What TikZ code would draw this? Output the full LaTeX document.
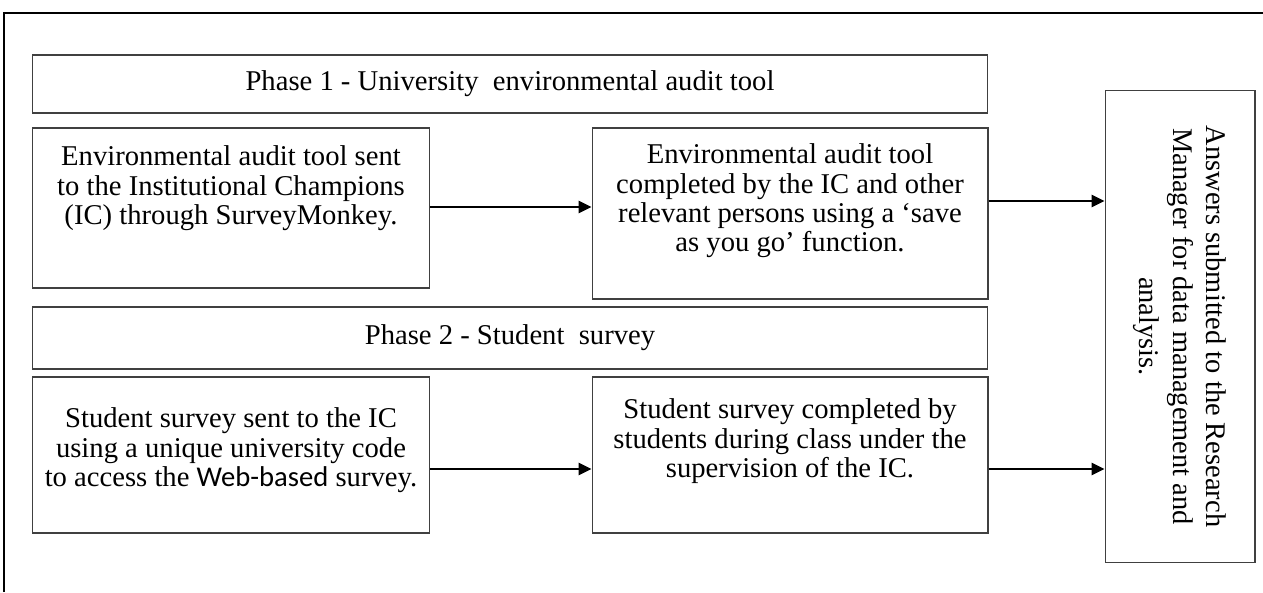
\documentclass[tikz,border=0pt]{standalone}
\usepackage{fontspec}
\setmainfont{Liberation Serif}
\newfontfamily\webfont{Carlito}
\usetikzlibrary{arrows.meta,calc}
\tikzset{
	phasebox/.style={draw=black!75, line width=0.6pt, inner sep=0pt, minimum height=#1, minimum width=19.12cm},
	stepbox/.style={draw=black!75, line width=0.6pt, inner sep=0pt},
	flow/.style={line width=1.6pt, -{Triangle[length=0.26cm,width=0.24cm]}},
}
% box text: width, height, top gap, text
\newcommand{\boxtext}[4]{\parbox[c][#2][t]{#1}{\centering\vspace*{#3}#4}}

\begin{document}
\begin{tikzpicture}[x=0.02cm, y=-0.02cm]
		%%%%% START %%%%%
		\fontsize{16.3}{16.6}\selectfont
		\useasboundingbox (0, 0) rectangle (1263, 592);
		
		% frame
		\draw[line width=1.4pt] (4, 592) -- (4, 13) -- (1263, 13);
		
		% phase 1
		\node[phasebox=1.16cm] (phaseone) at (510, 84) {Phase 1 - University~ environmental audit tool};
		\node[stepbox] (sendone) at (231, 208) {\boxtext{7.96cm}{3.2cm}{0.36cm}{Environmental audit tool sent\\ to the Institutional Champions\\ (IC) through SurveyMonkey.}};
		\node[stepbox] (doneone) at (790, 213.5) {\boxtext{7.92cm}{3.42cm}{0.32cm}{Environmental audit tool\\ completed by the IC and other\\ relevant persons using a ‘save\\ as you go’ function.}};
		
		% phase 2
		\node[phasebox=1.24cm] (phasetwo) at (510, 338) {Phase 2 - Student~ survey};
		\node[stepbox] (sendtwo) at (231, 455) {\boxtext{7.96cm}{3.12cm}{0.62cm}{Student survey sent to the IC\\ using a unique university code\\ to access the {\webfont Web-based} survey.}};
		\node[stepbox] (donetwo) at (790, 455) {\boxtext{7.92cm}{3.12cm}{0.44cm}{Student survey completed by\\ students during class under the\\ supervision of the IC.}};
		
		% results (turned, so its south side faces left)
		\node[stepbox, rotate=-90, minimum width=9.46cm, minimum height=3cm, align=center, font=\fontsize{16.2}{19.2}\selectfont] (answers) at (1180, 326.5) {Answers submitted to the Research\\ Manager for data management and\\ analysis.};
		
		% arrows
		\draw[flow] ([yshift=0.02cm]sendone.east) -- ([yshift=0.02cm]sendone.east -| doneone.west);
		\draw[flow] ([yshift=0.25cm]doneone.east) -- ([yshift=0.25cm]doneone.east -| answers.south);
		\draw[flow] ([yshift=-0.28cm]sendtwo.east) -- ([yshift=-0.28cm]sendtwo.east -| donetwo.west);
		\draw[flow] ([yshift=-0.28cm]donetwo.east) -- ([yshift=-0.28cm]donetwo.east -| answers.south);
		
		%%%%% END %%%%%
	\end{tikzpicture}
\end{document}
